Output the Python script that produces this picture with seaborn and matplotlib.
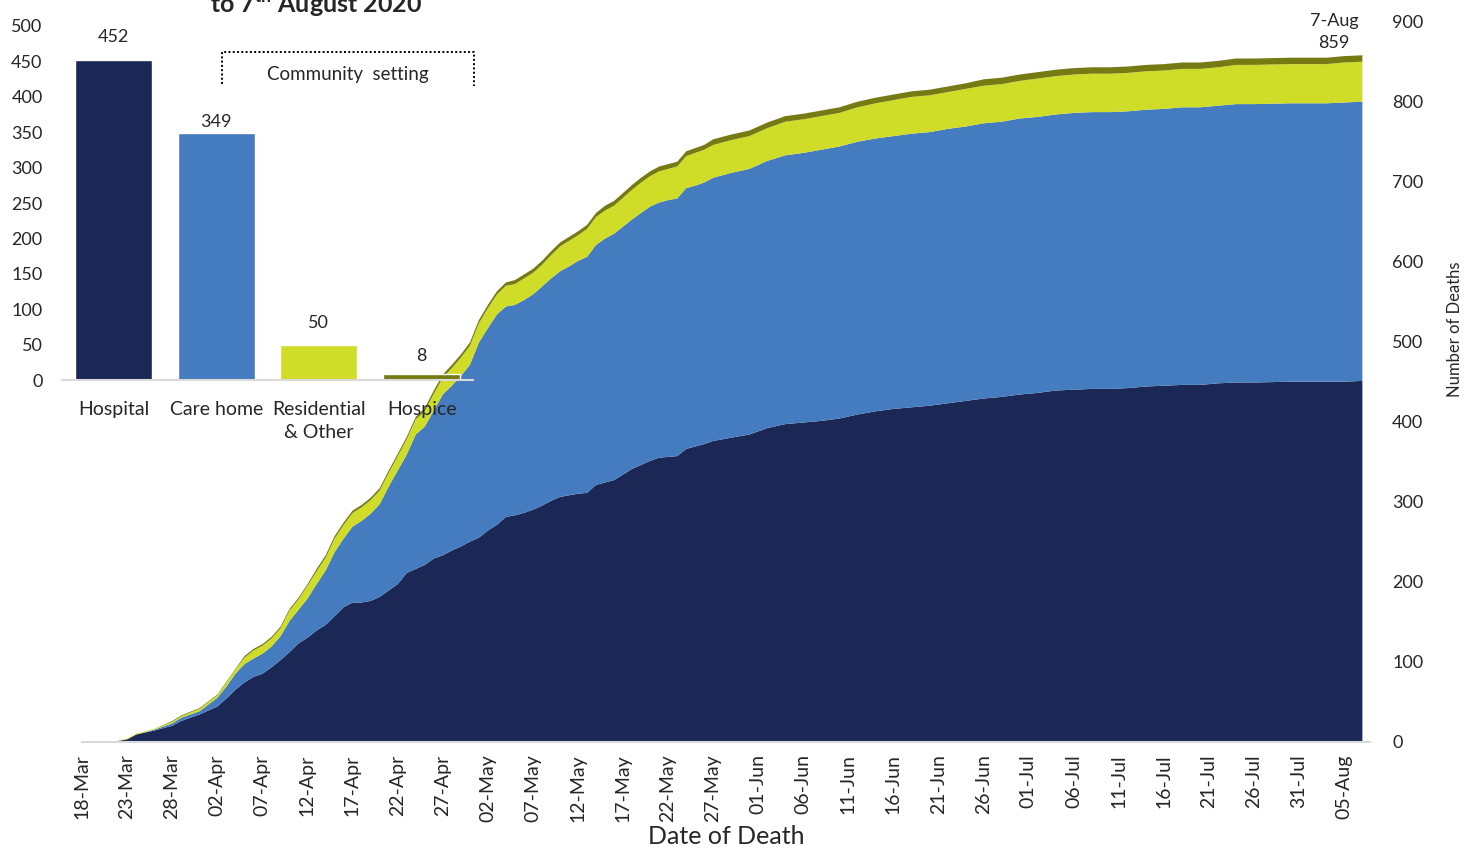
import pandas as pd
import matplotlib
matplotlib.use('Agg')
import matplotlib.pyplot as plt
import matplotlib.dates as mdates
import seaborn as sns

sns.set_style('white')
plt.rcParams['font.family'] = ['Lato', 'DejaVu Sans']

# 累计死亡数（按死亡日期），从 2020-03-18 起的天数
day_offsets = [0, 3, 4, 5, 6, 8, 10, 11, 13,
               15, 16, 17, 18, 19, 20, 21, 22, 23, 24, 25, 26, 27, 28, 29, 30,
               31, 32, 33, 34, 35, 36, 37, 38, 39, 40, 41, 42, 43, 44, 45, 46,
               47, 48, 49, 50, 51, 52, 53, 54, 55, 56, 57, 58, 59, 60, 61, 62,
               63, 64, 65, 66, 67, 68, 69, 70,
               72, 74, 76, 78, 80, 82, 84, 86, 88, 90, 92, 94, 96, 98, 100, 102,
               104, 106, 108, 110, 112, 114, 116, 118, 120, 122, 124, 126, 128, 130,
               134, 138, 140, 142]

hospital = [0, 1, 2, 4, 10, 15, 21, 27, 35,
            45, 55, 66, 75, 82, 86, 94, 103, 113, 124, 131, 140, 147, 158, 169, 175,
            175, 177, 182, 190, 198, 212, 217, 222, 230, 234, 240, 245, 251, 256, 265, 272,
            282, 284, 287, 291, 296, 302, 307, 309, 311, 312, 322, 325, 328, 335, 342, 347,
            352, 356, 357, 358, 367, 370, 373, 377,
            381, 385, 393, 398, 400, 402, 405, 410, 414, 417, 419, 421, 424, 427, 430, 432,
            435, 437, 440, 441, 442, 442, 443, 445, 446, 447, 447, 449, 450, 450,
            451, 451, 451, 452]

care_home = [0, 0, 0, 0, 0, 1, 3, 4, 4,
             11, 15, 20, 23, 23, 25, 26, 30, 39, 42, 49, 58, 68, 80, 86, 95,
             102, 109, 116, 130, 142, 148, 168, 173, 185, 201, 206, 213, 221, 244, 253, 263,
             263, 263, 266, 269, 274, 278, 282, 286, 291, 295, 300, 305, 308, 310, 312, 315,
             318, 319, 321, 322, 326, 326, 327, 329,
             331, 332, 334, 336, 337, 339, 340, 341, 341, 341, 342, 342, 343, 343, 344, 344,
             345, 345, 345, 346, 346, 346, 346, 346, 346, 347, 347, 347, 348, 348,
             348, 348, 349, 349]

residential = [0, 0, 0, 1, 1, 1, 2, 2, 3,
               3, 5, 5, 8, 10, 10, 10, 10, 13, 13, 16, 16, 16, 17, 17, 17,
               17, 17, 17, 17, 18, 19, 19, 19, 21, 21, 22, 23, 24, 24, 25, 25,
               26, 26, 27, 27, 27, 29, 31, 32, 32, 35, 35, 35, 35, 36, 37, 38,
               38, 39, 39, 40, 40, 41, 41, 41,
               41, 41, 41, 42, 42, 42, 42, 43, 44, 45, 46, 46, 46, 47, 47, 47,
               47, 48, 48, 48, 48, 48, 48, 48, 48, 48, 48, 48, 49, 49,
               49, 49, 50, 50]

hospice = [0, 0, 0, 0, 0, 0, 1, 1, 1,
           1, 1, 1, 2, 2, 2, 2, 2, 2, 2, 2, 3, 3, 3, 3, 3,
           3, 3, 3, 3, 3, 3, 3, 4, 4, 4, 4, 4, 4, 4, 4, 4,
           4, 5, 5, 5, 5, 5, 5, 5, 5, 5, 5, 6, 6, 6, 6, 6,
           6, 6, 6, 6, 6, 6, 6, 7,
           7, 7, 7, 7, 7, 7, 7, 7, 7, 7, 7, 7, 7, 7, 8, 8,
           8, 8, 8, 8, 8, 8, 8, 8, 8, 8, 8, 8, 8, 8,
           8, 8, 8, 8]

# 截至 8 月 7 日的各地点总数
place_labels = ['Hospital', 'Care home', 'Residential\n& Other', 'Hospice']
place_totals = [452, 349, 50, 8]
place_colors = ['#1B2856', '#457CBF', '#CFDC28', '#767A12']

dates = pd.Timestamp('2020-03-18') + pd.to_timedelta(day_offsets, unit='D')
tick_dates = pd.date_range('2020-03-18', '2020-08-07', freq='5D')

fig = plt.figure(figsize=(14.64, 8.48), dpi=100)
W, H = 1464, 848

# 主图：堆叠面积
ax = fig.add_axes([81.7 / W, 1 - 742 / H, (1370 - 81.7) / W, 720 / H])
ax.stackplot(dates, hospital, care_home, residential, hospice,
             colors=place_colors, linewidth=0)
ax.set_xlim(pd.Timestamp('2020-03-18'), pd.Timestamp('2020-03-18') + pd.Timedelta(days=142.9))
ax.set_ylim(0, 900)
ax.yaxis.tick_right()
ax.set_yticks(range(0, 901, 100))
ax.tick_params(axis='y', length=0, pad=16, labelsize=13)
ax.set_xticks(tick_dates)
ax.xaxis.set_major_formatter(mdates.DateFormatter('%d-%b'))
ax.tick_params(axis='x', rotation=90, labelsize=14, length=6, width=1.2,
               color='#D9D9D9', direction='out', pad=3)
for side in ['top', 'left', 'right']:
    ax.spines[side].set_visible(False)
ax.spines['bottom'].set_color('#D9D9D9')
ax.spines['bottom'].set_linewidth(1.5)
ax.patch.set_alpha(0)

ax.annotate('7-Aug\n859', xy=(dates[-1], 859), xytext=(-20, 3),
            textcoords='offset points', ha='center', va='bottom',
            fontsize=13, linespacing=1.45)

fig.text(726 / W, 1 - 836 / H, 'Date of Death', ha='center', va='center', fontsize=18)
fig.text(1455 / W, 1 - 329 / H, 'Number of Deaths', ha='center', va='center',
         rotation=90, fontsize=12)

# 标题（原图顶部被截断）
fig.text(316 / W, 1 - 13 / H, 'to 7$^{\\mathregular{th}}$ August 2020', ha='center',
         va='baseline', fontsize=18, weight='bold')

# 插图：各地点柱状图
inset = fig.add_axes([62 / W, 1 - 380 / H, 411 / W, 354 / H])
inset.patch.set_alpha(0)
sns.barplot(x=place_labels, y=place_totals, hue=place_labels, palette=place_colors,
            legend=False, width=0.75, saturation=1, ax=inset)
inset.set_xlim(-0.5, 3.5)
inset.set_ylim(0, 500)
inset.set_yticks(range(0, 501, 50))
inset.tick_params(axis='y', length=0, pad=14, labelsize=13)
inset.tick_params(axis='x', length=0, pad=15, labelsize=14)
for lbl in inset.get_xticklabels():
    lbl.set_linespacing(1.45)
for side in ['top', 'left', 'right']:
    inset.spines[side].set_visible(False)
inset.spines['bottom'].set_color('#D9D9D9')
inset.spines['bottom'].set_linewidth(1.5)

label_offsets = [16.5, 8, 15.5, 13]
for i, (val, off) in enumerate(zip(place_totals, label_offsets)):
    inset.annotate(str(val), xy=(i, val), xytext=(0, off), textcoords='offset points',
                   ha='center', va='center', fontsize=13)

# 社区场所括号
inset.plot([1.057, 1.057, 3.51, 3.51], [418, 463, 463, 415], color='black',
           linestyle=(0, (1, 1.2)), linewidth=1.4, clip_on=False)
inset.text(2.28, 431, 'Community  setting', ha='center', va='center', fontsize=13.5)

fig.savefig('out.png', dpi=100)
